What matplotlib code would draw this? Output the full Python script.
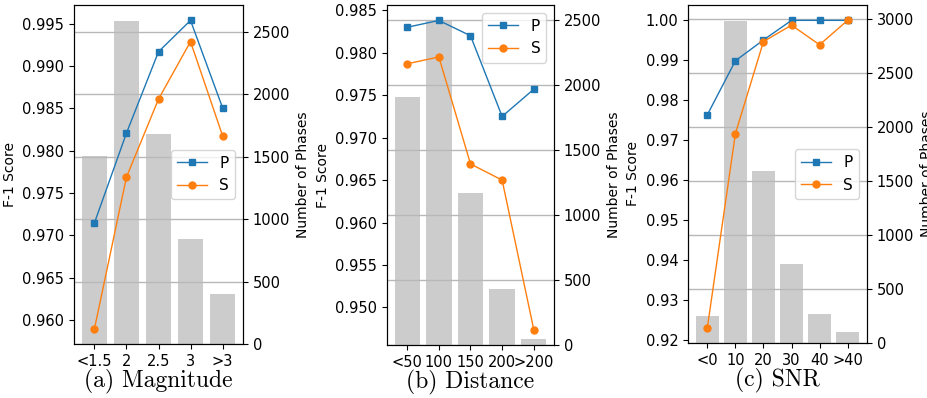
import matplotlib
matplotlib.use("Agg")
import matplotlib.pyplot as plt

# Panel (a) Magnitude
mag_labels = ["<1.5", "2", "2.5", "3", ">3"]
mag_p = [0.9715, 0.9821, 0.9917, 0.9954, 0.9851]
mag_s = [0.9590, 0.9769, 0.9861, 0.9929, 0.9818]
mag_n = [1504, 2583, 1680, 841, 397]

# Panel (b) Distance
dist_labels = ["<50", "100", "150", "200", ">200"]
dist_p = [0.9830, 0.9838, 0.9820, 0.9725, 0.9757]
dist_s = [0.9787, 0.9795, 0.9669, 0.9650, 0.9474]
dist_n = [1906, 2492, 1169, 429, 44]

# Panel (c) SNR
snr_labels = ["<0", "10", "20", "30", "40", ">40"]
snr_p = [0.9764, 0.9899, 0.9951, 1.0, 1.0, 1.0]
snr_s = [0.9232, 0.9717, 0.9947, 0.9988, 0.9939, 1.0]
snr_n = [246, 2985, 1591, 732, 265, 98]

titles = ["(a) Magnitude", "(b) Distance", "(c) SNR"]

fig = plt.figure(figsize=(9.28, 3.98), dpi=100)
W, H = 928, 398
boxes = [(74, 243, 5, 344), (387, 554, 5, 345), (688, 867, 5, 343)]
legend_locs = ["center right", "upper right", "center right"]

panels = [
    (mag_labels, mag_p, mag_s, mag_n),
    (dist_labels, dist_p, dist_s, dist_n),
    (snr_labels, snr_p, snr_s, snr_n),
]

for (labels, p, s, n), (l, r, t, b), title, loc in zip(panels, boxes, titles, legend_locs):
    ax = fig.add_axes([l / W, (H - b) / H, (r - l) / W, (b - t) / H])
    ax2 = ax.twinx()
    x = list(range(len(labels)))
    ax2.bar(x, n, width=0.8, color="#cccccc")
    ax2.grid(axis="y", color="#b8b8b8", linewidth=1.0)
    ax2.tick_params(labelsize=10.5)
    ax2.set_ylabel("Number of Phases", fontsize=10)
    ax.set_zorder(ax2.get_zorder() + 1)
    ax.patch.set_visible(False)
    ax.plot(x, p, marker="s", markersize=5, linewidth=1.0, color="#1f77b4", label="P")
    ax.plot(x, s, marker="o", markersize=5, linewidth=1.0, color="#ff7f0e", label="S")
    ax.set_xticks(x)
    ax.set_xticklabels(labels)
    ax.tick_params(labelsize=10.5)
    ax.set_ylabel("F-1 Score", fontsize=10)
    ax.set_xlabel(title, fontsize=17, family="cmr10", labelpad=0)
    ax.legend(loc=loc, fontsize=11)

fig.savefig("out.png", dpi=100)
